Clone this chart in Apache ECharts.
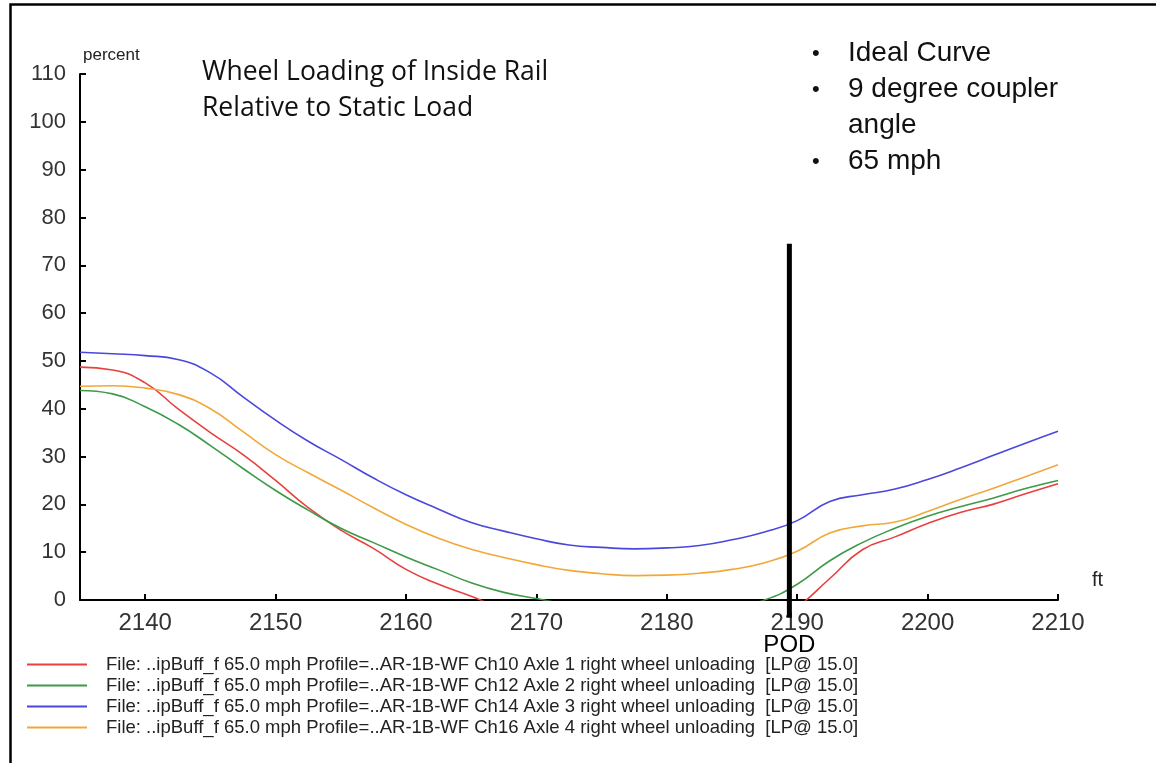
<!DOCTYPE html>
<html>
<head>
<meta charset="utf-8">
<script src="https://cdn.jsdelivr.net/npm/echarts@6/dist/echarts.min.js"></script>
<style>
  html, body { margin: 0; padding: 0; background: #fff; }
  #chart { width: 1156px; height: 763px; }
</style>
</head>
<body>
<div id="chart"></div>
<script>
// distance along track (ft)
let distance = [2135, 2137.5, 2140, 2142.5, 2145, 2147.5, 2150, 2152.5, 2155, 2157.5,
  2160, 2162.5, 2165, 2167.5, 2170, 2172.5, 2175, 2177.5, 2180, 2182.5,
  2185, 2187.5, 2190, 2192.5, 2195, 2197.5, 2200, 2202.5, 2205, 2207.5, 2210];

// wheel load, percent of static (below 0 is clipped by the axis)
let axle1 = [48.7, 48.1, 45.4, 40.0, 35.0, 30.4, 25.0, 19.3, 14.6, 10.8,
  6.4, 3.3, 0.8, -2, -4, -5.5, -6.5, -7, -7.5, -7.5,
  -7, -5.5, -1.5, 4.5, 10.5, 13.2, 16.0, 18.3, 20.0, 22.2, 24.3];
let axle2 = [43.8, 43.1, 40.4, 36.8, 32.3, 27.5, 22.9, 18.8, 15.0, 12.0,
  9.0, 6.3, 3.6, 1.6, 0.3, -1, -2, -2.5, -2.6, -2.4,
  -1.5, 0, 3.3, 8.2, 12.0, 15.0, 17.5, 19.5, 21.3, 23.3, 25.0];
let axle3 = [51.8, 51.5, 51.1, 50.3, 47.5, 42.5, 37.6, 33.2, 29.4, 25.5,
  22.0, 19.0, 16.2, 14.4, 12.8, 11.5, 11.0, 10.7, 10.9, 11.4,
  12.6, 14.2, 16.6, 20.6, 22.0, 23.2, 25.2, 27.6, 30.2, 32.8, 35.3];
let axle4 = [44.7, 44.8, 44.3, 43.0, 40.0, 35.2, 30.4, 26.6, 23.0, 19.3,
  15.8, 12.9, 10.6, 8.9, 7.4, 6.2, 5.5, 5.1, 5.2, 5.6,
  6.4, 7.8, 10.2, 14.0, 15.5, 16.3, 18.5, 21.0, 23.3, 25.8, 28.3];

let seriesNames = [
  "File: ..ipBuff_f 65.0 mph Profile=..AR-1B-WF Ch10 Axle 1 right wheel unloading  [LP@ 15.0]",
  "File: ..ipBuff_f 65.0 mph Profile=..AR-1B-WF Ch12 Axle 2 right wheel unloading  [LP@ 15.0]",
  "File: ..ipBuff_f 65.0 mph Profile=..AR-1B-WF Ch14 Axle 3 right wheel unloading  [LP@ 15.0]",
  "File: ..ipBuff_f 65.0 mph Profile=..AR-1B-WF Ch16 Axle 4 right wheel unloading  [LP@ 15.0]",
];
let seriesColors = ["#e8403f", "#3c9a48", "#4a48dc", "#f2a838"];

let xTicks = [2140, 2150, 2160, 2170, 2180, 2190, 2200, 2210];
let yTicks = [0, 10, 20, 30, 40, 50, 60, 70, 80, 90, 100, 110];

// point of derailment marker
let podX = 2189.4;
let podRange = [74.5, -3.7];

let notes = ["Ideal Curve", "9 degree coupler\nangle", "65 mph"];

let chart = echarts.init(document.getElementById("chart"));

function pairs(vals) {
  return distance.map(function (d, i) {
    return [d, vals[i]];
  });
}

let curves = [axle1, axle2, axle3, axle4].map(function (vals, i) {
  return {
    name: seriesNames[i],
    type: "line",
    data: pairs(vals),
    smooth: 0.5,
    symbol: "none",
    lineStyle: { color: seriesColors[i], width: 1.6 },
    itemStyle: { color: seriesColors[i] },
    z: 3,
  };
});

let pod = {
  name: "POD",
  type: "line",
  clip: false,
  symbol: "circle",
  symbolSize: 0,
  showSymbol: true,
  silent: true,
  lineStyle: { color: "#000", width: 5 },
  itemStyle: { color: "#000" },
  data: [
    [podX, podRange[0]],
    {
      value: [podX, podRange[1]],
      label: {
        show: true,
        position: "bottom",
        distance: 16,
        formatter: "POD",
        color: "#000",
        fontSize: 24,
        fontFamily: "Liberation Sans",
      },
    },
  ],
  z: 5,
};

let options = {
  backgroundColor: "#fff",
  animation: false,
  grid: {
    left: 80,
    right: 98,
    top: 74,
    bottom: 163,
  },
  legend: {
    data: seriesNames,
    orient: "vertical",
    left: 22,
    top: 649,
    itemWidth: 60,
    itemHeight: 12,
    itemGap: 0,
    icon: "path://M0,5L60,5L60,7L0,7Z",
    textStyle: {
      color: "#222",
      fontSize: 18.5,
      lineHeight: 21,
      fontFamily: "Liberation Sans",
      padding: [0, 0, 0, 14],
    },
  },
  xAxis: {
    type: "value",
    min: 2135,
    max: 2210,
    name: "ft",
    nameLocation: "end",
    nameGap: 34,
    nameTextStyle: {
      color: "#222",
      fontSize: 20,
      fontFamily: "Liberation Sans",
      verticalAlign: "bottom",
      padding: [0, 0, 10, 0],
    },
    axisLine: { lineStyle: { color: "#000", width: 2 } },
    axisTick: {
      inside: true,
      length: 6,
      customValues: xTicks,
      lineStyle: { color: "#000", width: 2 },
    },
    axisLabel: {
      customValues: xTicks,
      margin: 11,
      color: "#333",
      fontSize: 24,
      fontFamily: "Liberation Sans",
      formatter: function (v) {
        return String(v);
      },
    },
    splitLine: { show: false },
  },
  yAxis: {
    type: "value",
    min: 0,
    max: 110,
    name: "percent",
    nameLocation: "end",
    nameGap: 10,
    nameTextStyle: {
      color: "#222",
      fontSize: 17,
      fontFamily: "Liberation Sans",
      align: "left",
      padding: [0, 0, 0, 3],
    },
    axisLine: { lineStyle: { color: "#000", width: 2 } },
    axisTick: {
      inside: true,
      length: 6,
      customValues: yTicks,
      lineStyle: { color: "#000", width: 2 },
    },
    axisLabel: {
      customValues: yTicks,
      margin: 14,
      color: "#333",
      fontSize: 22,
      fontFamily: "Liberation Sans",
    },
    splitLine: { show: false },
  },
  graphic: [
    {
      type: "rect",
      left: 8,
      top: 2,
      shape: { width: 1200, height: 800 },
      style: { fill: null, stroke: "#000", lineWidth: 2.5 },
      silent: true,
    },
    {
      type: "text",
      left: 202,
      top: 54,
      style: {
        text: "Wheel Loading of Inside Rail\nRelative to Static Load",
        fill: "#111",
        font: "26.5px 'Open Sans'",
        lineHeight: 36,
      },
    },
    {
      type: "text",
      left: 812,
      top: 36,
      style: {
        text: "•\n•\n\n•",
        fill: "#111",
        font: "22px 'Liberation Sans'",
        lineHeight: 36,
      },
    },
    {
      type: "text",
      left: 848,
      top: 35,
      style: {
        text: notes.join("\n"),
        fill: "#111",
        font: "28px 'Liberation Sans'",
        lineHeight: 36,
      },
    },
  ],
  series: curves.concat([pod]),
};

chart.setOption(options);
</script>
</body>
</html>
